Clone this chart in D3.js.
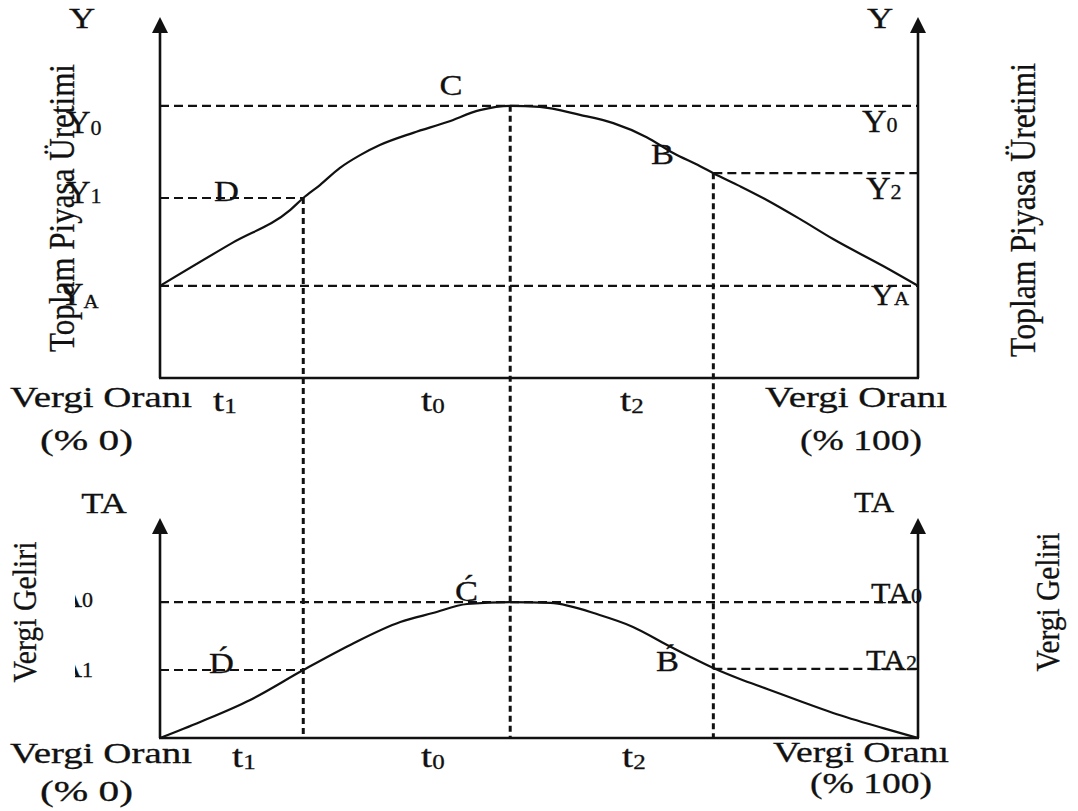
<!DOCTYPE html>
<html>
<head>
<meta charset="utf-8">
<script src="https://cdn.jsdelivr.net/npm/d3@7"></script>
<style>
  html, body { margin: 0; padding: 0; background: #fff; }
  svg text { font-family: "Liberation Serif", "Times New Roman", serif; fill: #111; stroke: #111; stroke-width: 0.3px; }
</style>
</head>
<body>
<svg id="chart" width="1078" height="811"></svg>
<script>
// ---------------- DATA ----------------
// tax rate (% 0 .. % 100) along the horizontal axis
const taxRate = [0, 9.6, 17.2, 18.9, 21.1, 23.7, 26.4, 29.0, 33.4, 37.9, 42.2, 46.2, 50.1, 55.4, 59.8, 64.2, 67.7, 71.2, 73.0, 76.5, 80.1, 84.4, 88.8, 95.4, 100];
// total market output (top panel), relative units
const output = [25.6, 37.6, 46.7, 50.0, 53.6, 58.3, 61.9, 64.7, 68.1, 71.1, 74.4, 75.6, 75.3, 73.1, 70.8, 66.9, 62.5, 58.9, 56.9, 53.3, 49.4, 44.2, 38.6, 31.1, 25.6];
// tax revenue (bottom panel)
const revenueRate = [0, 5.3, 11.9, 18.9, 25.1, 31.7, 36.0, 40.5, 46.2, 51.5, 58.0, 62.4, 66.9, 70.0, 73.0, 76.5, 80.1, 84.4, 88.8, 95.4, 100];
const revenue = [0, 7.3, 17.3, 30.9, 42.3, 52.7, 56.8, 60.9, 61.8, 61.4, 55.9, 50.5, 42.3, 36.8, 31.8, 26.8, 22.3, 16.8, 11.4, 4.5, 0];
// marked tax rates t1, t0, t2
const tNames = ["t1", "t0", "t2"];
const tValues = [18.9, 46.2, 73.0];
// output levels
const yNames = ["Y0", "Y1", "Y2", "YA"];
const yValues = [75.6, 50.0, 56.9, 25.6];
// revenue levels
const taNames = ["TA0", "TA1", "TA2"];
const taValues = [61.8, 30.9, 31.4];

// ---------------- SCALES ----------------
const svg = d3.select("#chart");
const x = d3.scaleLinear().domain([0, 100]).range([160, 918]);
const yTop = d3.scaleLinear().domain([0, 100]).range([378, 18]);
const yBot = d3.scaleLinear().domain([0, 100]).range([738, 518]);

const INK = "#111";
const DASH_H = "9,5";
const DASH_V = "6,4";

// ---------------- helpers ----------------
function label(g, px, py, parts, opts = {}) {
  const size = opts.size || 30;
  const sx = opts.sx || 1.3;
  const t = g.append("text")
    .attr("transform", `translate(${px},${py}) scale(${sx},1)`)
    .attr("text-anchor", opts.anchor || "start")
    .style("font-size", size + "px");
  parts.forEach(p => {
    const ts = t.append("tspan").text(p.t);
    if (p.sub) ts.style("font-size", (opts.subSize || 20) + "px").attr("dy", p.dy != null ? p.dy : 4);
  });
  return t;
}
function fitted(g, px, py, str, len, size) {
  return g.append("text")
    .attr("x", px).attr("y", py)
    .attr("textLength", len).attr("lengthAdjust", "spacingAndGlyphs")
    .style("font-size", size + "px")
    .text(str);
}
function vertical(g, bx, cy, str, len, size) {
  return g.append("text")
    .attr("transform", `translate(${bx},${cy}) rotate(-90)`)
    .attr("text-anchor", "middle")
    .attr("textLength", len).attr("lengthAdjust", "spacingAndGlyphs")
    .style("font-size", size + "px")
    .text(str);
}
function arrowUp(g, cx, tipY) {
  g.append("path")
    .attr("d", `M${cx},${tipY} L${cx - 8},${tipY + 16} L${cx + 8},${tipY + 16} Z`)
    .attr("fill", INK);
}
function hDash(g, x1, x2, yy) {
  g.append("line").attr("x1", x1).attr("x2", x2).attr("y1", yy).attr("y2", yy)
    .attr("stroke", INK).attr("stroke-width", 2.2).attr("stroke-dasharray", DASH_H);
}

const gLines = svg.append("g");
const gText = svg.append("g");

// ---------------- LINES ----------------
hDash(gLines, x(0), x(100), yTop(yValues[0]));                 // Y0
hDash(gLines, x(0), x(tValues[0]), yTop(yValues[1]));          // Y1
hDash(gLines, x(tValues[2]), x(100), yTop(yValues[2]));        // Y2
hDash(gLines, x(0), x(100), yTop(yValues[3]));                 // YA

const topAt = [yValues[1], yValues[0], yValues[2]];
tValues.forEach((tv, i) => {
  gLines.append("line")
    .attr("x1", x(tv)).attr("x2", x(tv))
    .attr("y1", yTop(topAt[i])).attr("y2", yBot(0))
    .attr("stroke", INK).attr("stroke-width", 3).attr("stroke-dasharray", DASH_V);
});

hDash(gLines, x(0), x(100), yBot(taValues[0]));                // TA0
hDash(gLines, x(0), x(tValues[0]), yBot(taValues[1]));         // TA1
hDash(gLines, x(tValues[2]), x(100), yBot(taValues[2]));       // TA2

[[yTop, 17], [yBot, 518]].forEach(([ys, tip]) => {
  [x(0), x(100)].forEach(ax => {
    gLines.append("line").attr("x1", ax).attr("x2", ax).attr("y1", tip + 10).attr("y2", ys(0))
      .attr("stroke", INK).attr("stroke-width", 2.6);
    arrowUp(gLines, ax, tip);
  });
  gLines.append("line").attr("x1", x(0) - 1).attr("x2", x(100) + 1).attr("y1", ys(0)).attr("y2", ys(0))
    .attr("stroke", INK).attr("stroke-width", 2.4);
});

const lineTop = d3.line().x((d, i) => x(taxRate[i])).y(d => yTop(d)).curve(d3.curveMonotoneX);
gLines.append("path").attr("d", lineTop(output)).attr("fill", "none").attr("stroke", INK).attr("stroke-width", 2.2);
const lineBot = d3.line().x((d, i) => x(revenueRate[i])).y(d => yBot(d)).curve(d3.curveMonotoneX);
gLines.append("path").attr("d", lineBot(revenue)).attr("fill", "none").attr("stroke", INK).attr("stroke-width", 2.2);

// ---------------- TEXT: top panel ----------------
label(gText, 82, 28, [{t: "Y"}], {anchor: "middle", size: 29, sx: 1.25});
label(gText, 880, 28, [{t: "Y"}], {anchor: "middle", size: 29, sx: 1.25});

vertical(gText, 74, 208, "Toplam Piyasa Üretimi", 288, 36);
vertical(gText, 1035, 210, "Toplam Piyasa Üretimi", 294, 36);

label(gText, 66, 133, [{t: "Y"}, {t: "0", sub: true, dy: 2}], {size: 31, sx: 1.1});
label(gText, 66, 203, [{t: "Y"}, {t: "1", sub: true, dy: 0}], {size: 31, sx: 1.1});
label(gText, 59, 305, [{t: "Y"}, {t: "A", sub: true, dy: 3}], {size: 31, sx: 1.1, subSize: 19});

label(gText, 862, 132, [{t: "Y"}, {t: "0", sub: true, dy: 0}], {size: 31, sx: 1.1});
label(gText, 866, 199, [{t: "Y"}, {t: "2", sub: true, dy: 0}], {size: 31, sx: 1.1});
label(gText, 871, 305, [{t: "Y"}, {t: "A", sub: true, dy: 0}], {size: 29, sx: 1.1, subSize: 19});

label(gText, 451, 95, [{t: "C"}], {anchor: "middle", size: 30, sx: 1.15});
label(gText, 651, 164, [{t: "B"}], {size: 30, sx: 1.15});
label(gText, 214, 201, [{t: "D"}], {size: 30, sx: 1.15});

const tTopX = [213, 421, 620];
tNames.forEach((n, i) => {
  label(gText, tTopX[i], 411, [{t: "t"}, {t: n.slice(1), sub: true, dy: 2}], {size: 32, sx: 1.25, subSize: 20});
});
fitted(gText, 10, 407, "Vergi Oranı", 182, 29);
fitted(gText, 40, 450, "(% 0)", 93, 29);
fitted(gText, 765, 407, "Vergi Oranı", 182, 29);
fitted(gText, 800, 450, "(% 100)", 122, 29);

// ---------------- TEXT: bottom panel ----------------
label(gText, 104, 513, [{t: "TA"}], {anchor: "middle", size: 29, sx: 1.25});
label(gText, 874, 512, [{t: "TA"}], {anchor: "middle", size: 29, sx: 1.1});

// left revenue-level labels, partly covered by the side title box
const clip = svg.append("clipPath").attr("id", "leftClip");
clip.append("rect").attr("x", 75).attr("y", 540).attr("width", 100).attr("height", 160);
const gClip = gText.append("g").attr("clip-path", "url(#leftClip)");
label(gClip, 93, 607, [{t: "TA"}, {t: "0", sub: true, dy: 0}], {anchor: "end", size: 29, sx: 1.1});
label(gClip, 93, 677, [{t: "TA"}, {t: "1", sub: true, dy: 0}], {anchor: "end", size: 29, sx: 1.1});

vertical(gText, 36, 612, "Vergi Geliri", 141, 34);
vertical(gText, 1059, 602, "Vergi Geliri", 139, 34);

label(gText, 871, 603, [{t: "TA"}, {t: "0", sub: true, dy: 0}], {size: 29, sx: 1.1});
label(gText, 866, 670, [{t: "TA"}, {t: "2", sub: true, dy: 0}], {size: 29, sx: 1.1});

label(gText, 455, 601, [{t: "Ć"}], {size: 30, sx: 1.15});
label(gText, 209, 673, [{t: "D\u0301"}], {size: 30, sx: 1.15});
label(gText, 656, 671, [{t: "B\u0301"}], {size: 30, sx: 1.15});

const tBotX = [232, 421, 622];
tNames.forEach((n, i) => {
  label(gText, tBotX[i], 767, [{t: "t"}, {t: n.slice(1), sub: true, dy: 2}], {size: 32, sx: 1.25, subSize: 20});
});
fitted(gText, 10, 763, "Vergi Oranı", 182, 29);
fitted(gText, 40, 801, "(% 0)", 93, 29);
fitted(gText, 773, 762, "Vergi Oranı", 176, 29);
fitted(gText, 810, 793, "(% 100)", 122, 29);
</script>
</body>
</html>
